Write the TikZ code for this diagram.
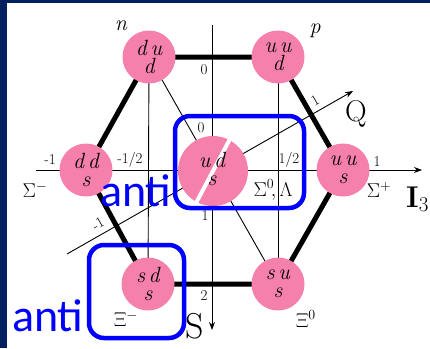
\RequirePackage{fix-cm}
\documentclass[tikz,border=0pt]{standalone}
\usepackage{fontspec}
\newfontfamily\antifont{Carlito}
\usetikzlibrary{arrows.meta, backgrounds}
\definecolor{framenavy}{RGB}{0,32,96}
\definecolor{quarkpink}{RGB}{246,128,172}

\begin{document}
\begin{tikzpicture}[
    x=1pt, y=-1pt,
    baryon/.style={circle, fill=quarkpink, minimum size=53pt, inner sep=0pt, align=center, font=\fontsize{22}{18}\selectfont\itshape},
    octetedge/.style={line width=5pt},
    guide/.style={line width=0.9pt},
    axisline/.style={line width=0.9pt, -{Stealth[length=8pt, width=6pt]}},
    ticklabel/.style={inner sep=0pt, font=\fontsize{15}{15}\selectfont},
    partname/.style={inner sep=0pt, font=\fontsize{20}{20}\selectfont},
    antibox/.style={draw=blue, line width=4.5pt, rounded corners=15pt},
    antilabel/.style={inner sep=0pt, text=blue, font=\antifont\fontsize{46}{46}\selectfont}
]
    \useasboundingbox (0,0) rectangle (430,348);
    \fill[framenavy] (0,0) rectangle (7,348);
    \fill[framenavy] (0,0) rectangle (430,3);

    % baryon octet
    \node[baryon] (dud) at (149,57) {d\,u\\d};
    \node[baryon] (uud) at (278,57) {u\,u\\d};
    \node[baryon] (dds) at (86,170) {d\,d\\s};
    \node[baryon, minimum size=70pt] (uds) at (213,171) {};
    \node[baryon] (uus) at (343,170) {u\,u\\s};
    \node[baryon] (sds) at (148,284) {s\,d\\s};
    \node[baryon] (sus) at (278,284) {s\,u\\s};
    \draw[white, line width=4pt, line cap=round] (uds.62) -- (uds.242);
    \node[baryon, fill=none] (udstext) at (212,169) {u\,d\\s};

    \coordinate (iaxis0) at (36,170);
    \coordinate (iaxis1) at (422,170);
    \coordinate (saxis0) at (212,25);
    \coordinate (saxis1) at (212,330);
    \coordinate (qaxis0) at (67,254);
    \coordinate (qaxis1) at (353,91);

    \begin{scope}[on background layer]
        \draw[octetedge] (dud.center) -- (uud.center) -- (uus.center) -- (sus.center) -- (sds.center) -- (dds.center) -- cycle;
        \draw[guide] (dud.center) -- (sds.center);
        \draw[guide] (uud.center) -- (sus.center);
        \draw[guide] (dud.center) -- (sus.center);
        \draw[axisline] (iaxis0) -- (iaxis1);
        \draw[axisline] (saxis0) -- (saxis1);
        \draw[axisline] (qaxis0) -- (qaxis1);
    \end{scope}

    % axis values
    \node[ticklabel] (im1) at (50,160) {-1};
    \node[ticklabel] (imh) at (130,160) {-1/2};
    \node[ticklabel] (iph) at (289,160) {1/2};
    \node[ticklabel] (ip1) at (377,162) {1};
    \node[ticklabel] (s0) at (204,70) {0};
    \node[ticklabel] (q0) at (201,128) {0};
    \node[ticklabel] (s1) at (205,216) {1};
    \node[ticklabel] (s2) at (204,296) {2};
    \node[ticklabel, rotate=30] (qp1) at (315,100) {1};
    \node[ticklabel, rotate=30] (qm1) at (98,224) {-1};

    % names
    \node[inner sep=0pt, font=\fontsize{22}{22}\selectfont\itshape] (nlabel) at (121,26) {n};
    \node[inner sep=0pt, font=\fontsize{22}{22}\selectfont\itshape] (plabel) at (315,31) {p};
    \node[partname] (sigm) at (35,190) {$\Sigma^-$};
    \node[partname] (sigz) at (273,190) {$\Sigma^0\!,\Lambda$};
    \node[partname] (sigp) at (379,190) {$\Sigma^+$};
    \node[partname] (xim) at (126,319) {$\Xi^-$};
    \node[partname] (xiz) at (306,319) {$\Xi^0$};
    \node[inner sep=0pt, font=\fontsize{30}{30}\selectfont] (qlabel) at (356,114) {Q};
    \node[inner sep=0pt, font=\fontsize{36}{36}\selectfont] (slabel) at (195,326) {S};
    \node[inner sep=0pt, anchor=west, font=\fontsize{30}{30}\selectfont] (ilabel) at (406,199) {\textbf{I}$_3$};

    % antiparticles
    \draw[antibox] (175,116) rectangle (304,208);
    \draw[antibox] (89,245) rectangle (184,338);
    \node[antilabel, anchor=base west] (anti1) at (100,206) {anti};
    \node[antilabel, anchor=base west] (anti2) at (12,331) {anti};
\end{tikzpicture}
\end{document}
